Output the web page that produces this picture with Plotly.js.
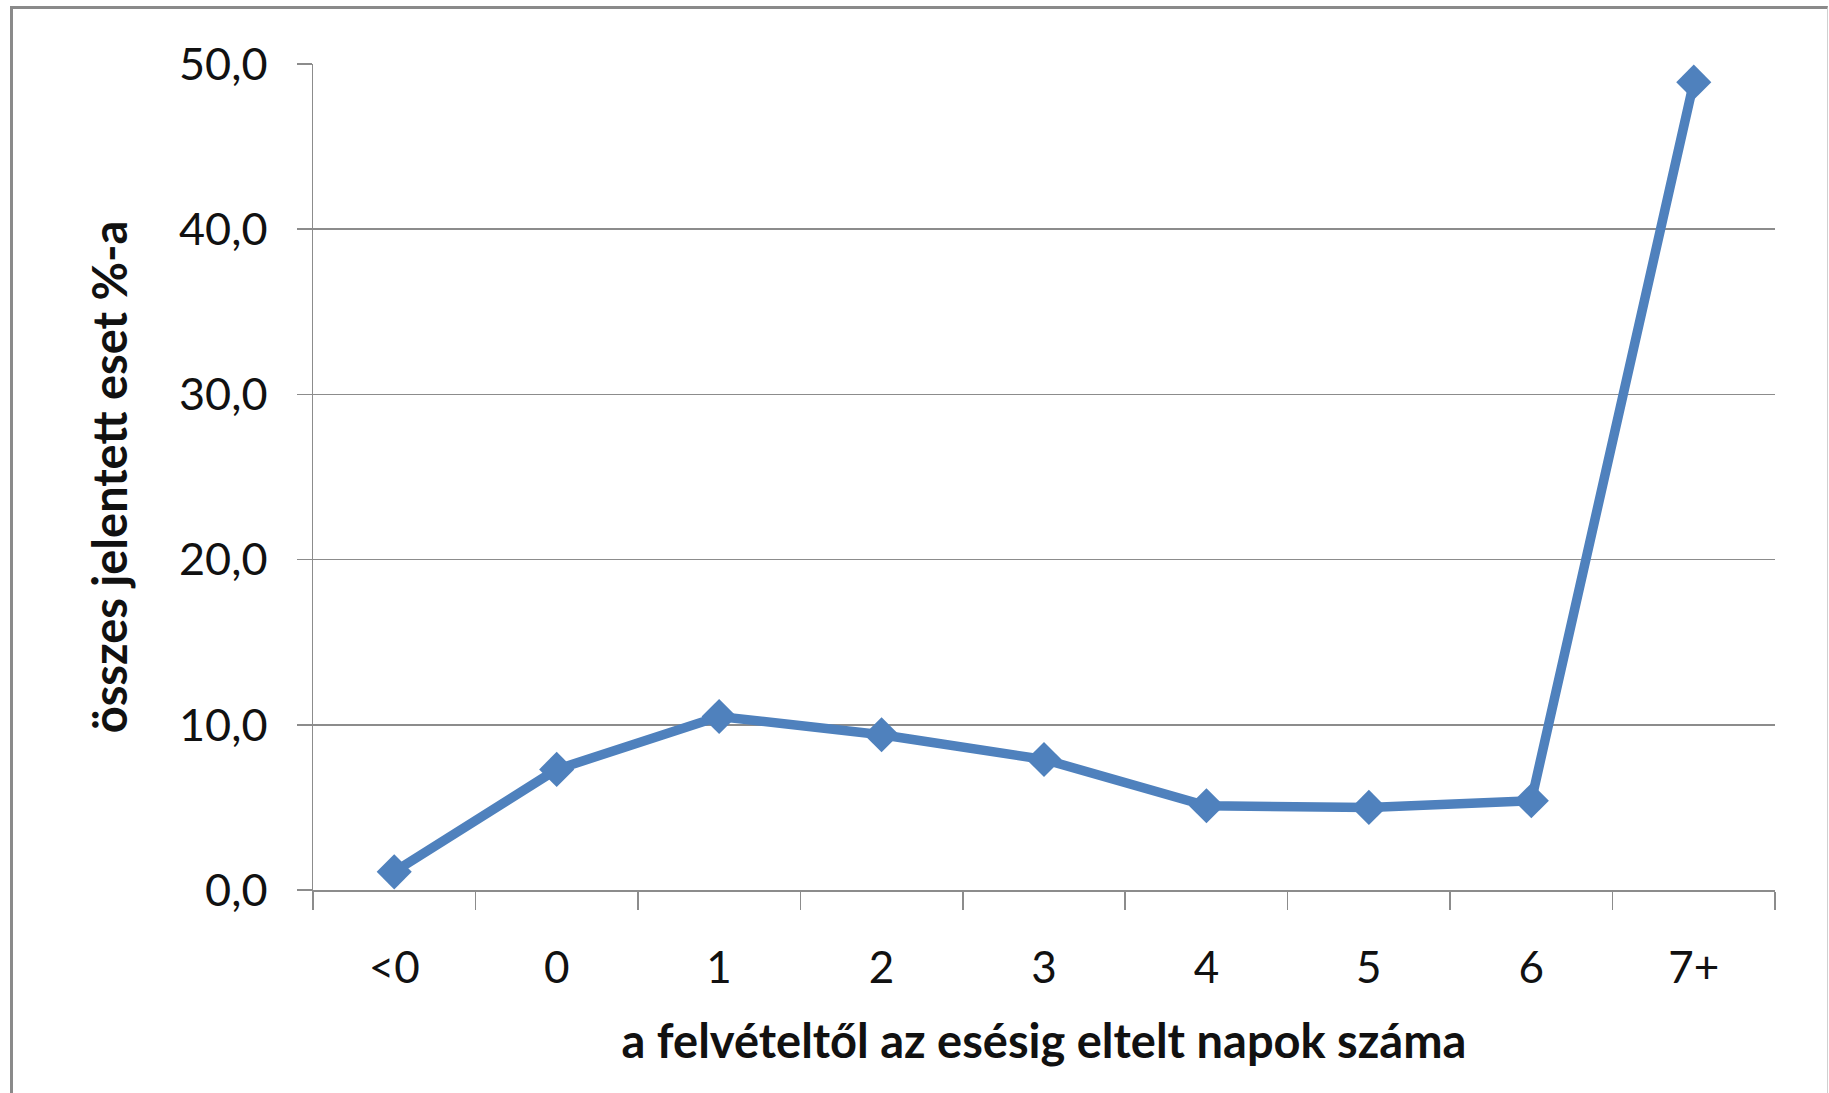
<!DOCTYPE html>
<html>
<head>
<meta charset="utf-8">
<script src="https://cdn.plot.ly/plotly-3.0.1.min.js"></script>
<style>
  html, body { margin: 0; padding: 0; background: #ffffff; }
  #wrap { position: relative; width: 1829px; height: 1093px; overflow: hidden; }
  #frame { position: absolute; left: 10px; top: 6px; width: 1814px; height: 1100px;
           border-top: 3px solid #8a8a8a; border-left: 3px solid #8a8a8a; border-right: 1px solid #d0d0d0;
           pointer-events: none; }
  #chart { position: absolute; left: 0; top: 0; width: 1829px; height: 1093px; }
</style>
</head>
<body>
<div id="wrap">
  <div id="chart"></div>
  <div id="frame"></div>
</div>
<script>
const categories = ["<0", "0", "1", "2", "3", "4", "5", "6", "7+"];
const percentValues = [1.1, 7.3, 10.5, 9.4, 7.9, 5.1, 5.0, 5.4, 48.9];
const yTickValues = [0, 10, 20, 30, 40, 50];
const yTickLabels = ["0,0", "10,0", "20,0", "30,0", "40,0", "50,0"];
const xTitle = "a felvételtől az esésig eltelt napok száma";
const yTitle = "összes jelentett eset %-a";

const blue = "#4F81BD";
const gray = "#8c8c8c";
const font = "Lato, 'Open Sans', sans-serif";

const trace = {
  type: "scatter",
  mode: "lines+markers",
  x: categories,
  y: percentValues,
  line: { color: blue, width: 9.5 },
  marker: { symbol: "diamond", size: 27, color: blue, line: { width: 0 } },
  cliponaxis: false,
  hoverinfo: "x+y"
};

const layout = {
  width: 1829,
  height: 1093,
  margin: { l: 313, r: 54, t: 64, b: 203, pad: 0 },
  paper_bgcolor: "rgba(0,0,0,0)",
  plot_bgcolor: "#ffffff",
  showlegend: false,
  font: { family: font, color: "#111111", size: 44 },
  xaxis: {
    type: "category",
    categoryorder: "array",
    categoryarray: categories,
    range: [-0.5, categories.length - 0.5],
    autorange: false,
    tickson: "boundaries",
    ticks: "outside",
    ticklen: 18,
    tickwidth: 1.5,
    tickcolor: gray,
    showline: true,
    linecolor: gray,
    linewidth: 1.5,
    showgrid: false,
    zeroline: false,
    tickfont: { family: font, size: 44, color: "#111111" },
    ticklabelstandoff: 39,
    title: { text: xTitle, font: { family: font, size: 47, color: "#111111", weight: "bold" }, standoff: 34 }
  },
  yaxis: {
    range: [0, 50],
    autorange: false,
    tickmode: "array",
    tickvals: yTickValues,
    ticktext: yTickLabels,
    ticks: "outside",
    ticklen: 15,
    tickwidth: 1.5,
    tickcolor: gray,
    showline: true,
    linecolor: gray,
    linewidth: 1.5,
    showgrid: true,
    gridcolor: gray,
    gridwidth: 1.5,
    zeroline: false,
    tickfont: { family: font, size: 45, color: "#111111" },
    ticklabelstandoff: 20,
    title: { text: yTitle, font: { family: font, size: 47, color: "#111111", weight: "bold" }, standoff: 36 }
  }
};

Plotly.newPlot("chart", [trace], layout, { displayModeBar: false, staticPlot: true });
</script>
</body>
</html>
